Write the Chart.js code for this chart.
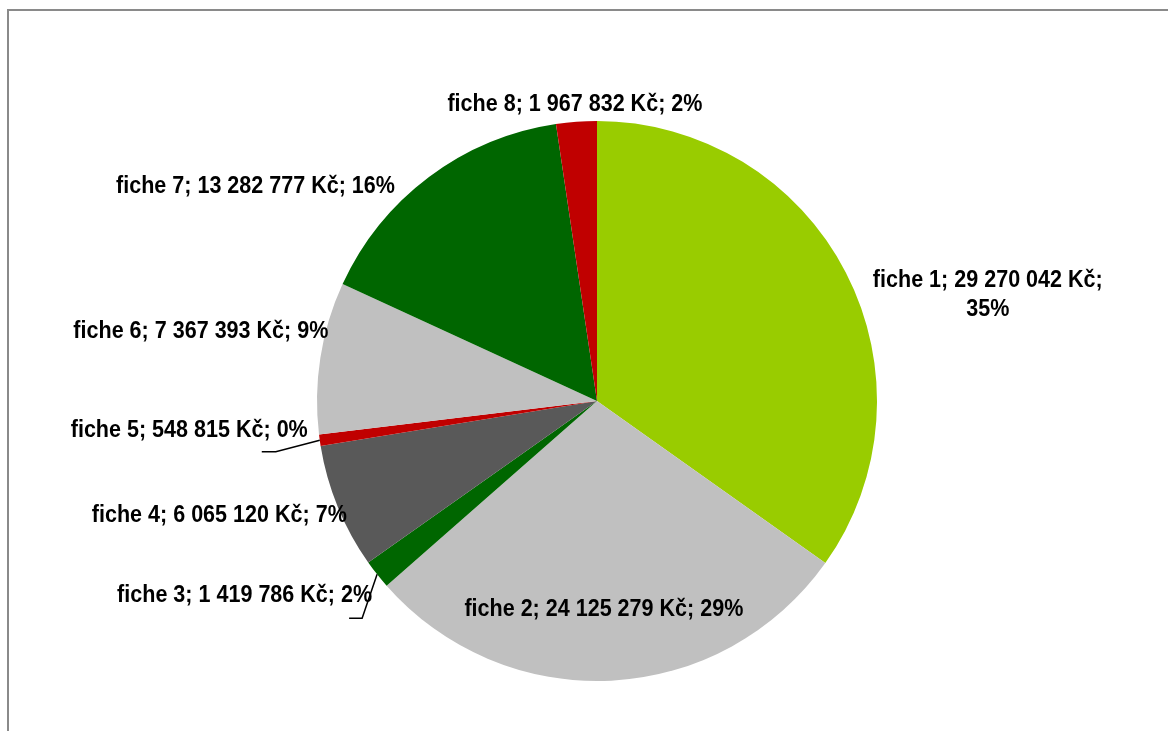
<!DOCTYPE html>
<html>
<head>
<meta charset="utf-8">
<script src="https://cdn.jsdelivr.net/npm/chart.js@4.4.1/dist/chart.umd.min.js"></script>
<style>
  html, body { margin: 0; padding: 0; background: #ffffff; }
  #wrap { width: 1168px; height: 731px; position: relative; overflow: hidden; }
</style>
</head>
<body>
<div id="wrap"><canvas id="c" width="1168" height="731"></canvas></div>
<script>
// ---- data ----
const categories = ['fiche 1', 'fiche 2', 'fiche 3', 'fiche 4', 'fiche 5', 'fiche 6', 'fiche 7', 'fiche 8'];
const values = [29270042, 24125279, 1419786, 6065120, 548815, 7367393, 13282777, 1967832];
const percentLabels = ['35%', '29%', '2%', '7%', '0%', '9%', '16%', '2%'];
const currency = 'Kč';
const sliceColors = ['#99CC00', '#C0C0C0', '#006600', '#595959', '#C00000', '#C0C0C0', '#006600', '#C00000'];

// ---- label layout (relative to the slice's outer mid point) ----
const labelLayout = [
  { align: 'center', dx: 142, dy: 14.4, split: true },
  { align: 'center', dx: -7.6, dy: -64.6 },
  { align: 'right', dx: -5, dy: 27.5, leader: [[-15, 44], [-28, 44]] },
  { align: 'right', dx: 9, dy: 15.2 },
  { align: 'right', dx: -12, dy: -3.5, leader: [[-44, 11.5], [-58, 11.5]] },
  { align: 'right', dx: 8, dy: -19.7 },
  { align: 'right', dx: -34, dy: 16 },
  { align: 'center', dx: -1.5, dy: -10.3 }
];

function fmt(v) { return String(v).replace(/\B(?=(\d{3})+(?!\d))/g, ' '); }

function pickFamily() {
  const c = document.createElement('canvas').getContext('2d');
  const s = 'fiche 6; 7 367 393 Kč; 9%';
  c.font = 'bold 23px "Liberation Sans Narrow", monospace';
  const a = c.measureText(s).width;
  c.font = 'bold 23px monospace';
  const b = c.measureText(s).width;
  return (a !== b) ? '"Liberation Sans Narrow"' : '"Liberation Sans", Arial, sans-serif';
}
const family = pickFamily();
const labelFont = 'bold 23px ' + family;

const framePlugin = {
  id: 'frame',
  beforeDraw(chart) {
    const ctx = chart.ctx;
    ctx.save();
    ctx.strokeStyle = '#8a8a8a';
    ctx.lineWidth = 2;
    ctx.strokeRect(8, 10, 1400, 1000);
    ctx.restore();
  }
};

const labelPlugin = {
  id: 'pieLabels',
  afterDatasetsDraw(chart) {
    const ctx = chart.ctx;
    const meta = chart.getDatasetMeta(0);
    ctx.save();
    ctx.font = labelFont;
    const sx = 255 / ctx.measureText('fiche 6; 7 367 393 Kč; 9%').width;
    ctx.fillStyle = '#000000';
    ctx.strokeStyle = '#000000';
    ctx.lineWidth = 1.5;
    ctx.textBaseline = 'alphabetic';
    meta.data.forEach((arc, i) => {
      const p = arc.getProps(['x', 'y', 'startAngle', 'endAngle', 'outerRadius'], true);
      const mid = (p.startAngle + p.endAngle) / 2;
      const px = p.x + p.outerRadius * Math.cos(mid);
      const py = p.y + p.outerRadius * Math.sin(mid);
      const L = labelLayout[i];
      const main = categories[i] + '; ' + fmt(values[i]) + ' ' + currency + ';';
      const lines = L.split ? [main, percentLabels[i]] : [main + ' ' + percentLabels[i]];
      if (L.leader) {
        ctx.beginPath();
        ctx.moveTo(px, py);
        L.leader.forEach(pt => ctx.lineTo(px + pt[0], py + pt[1]));
        ctx.stroke();
      }
      ctx.textAlign = L.align;
      lines.forEach((t, k) => {
        ctx.save();
        ctx.translate(px + L.dx, py + L.dy + k * 29.5);
        ctx.scale(sx, 1);
        ctx.fillText(t, 0, 0);
        ctx.restore();
      });
    });
    ctx.restore();
  }
};

new Chart(document.getElementById('c'), {
  type: 'pie',
  data: {
    labels: categories,
    datasets: [{
      data: values,
      backgroundColor: sliceColors,
      borderWidth: 0,
      hoverOffset: 0,
      offset: 0
    }]
  },
  options: {
    responsive: false,
    animation: false,
    layout: { padding: { top: 121, bottom: 50, left: 26, right: 0 } },
    plugins: {
      legend: { display: false },
      tooltip: { enabled: false }
    }
  },
  plugins: [framePlugin, labelPlugin]
});
</script>
</body>
</html>
